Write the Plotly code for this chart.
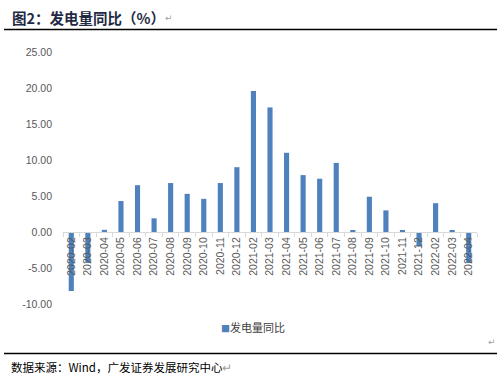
import plotly.graph_objects as go

categories = ["2020-02", "2020-03", "2020-04", "2020-05", "2020-06", "2020-07", "2020-08",
              "2020-09", "2020-10", "2020-11", "2020-12", "2021-02", "2021-03", "2021-04",
              "2021-05", "2021-06", "2021-07", "2021-08", "2021-09", "2021-10", "2021-11",
              "2021-12", "2022-02", "2022-03", "2022-04"]
values = [-8.2, -4.3, 0.3, 4.3, 6.5, 1.9, 6.8, 5.3, 4.6, 6.8, 9.0, 19.6, 17.3, 11.0,
          7.9, 7.4, 9.6, 0.2, 4.9, 3.0, 0.2, -2.0, 4.0, 0.2, -4.3]
series_name = "发电量同比"
y_ticks = [-10, -5, 0, 5, 10, 15, 20, 25]
y_ticklabels = ["-10.00", "-5.00", "0.00", "5.00", "10.00", "15.00", "20.00", "25.00"]

W, H = 498, 382
ymin, ymax = -10, 25
dom_top = 1 - 52 / H
dom_bot = 1 - 304 / H
zero_pos = dom_bot + (dom_top - dom_bot) * (0 - ymin) / (ymax - ymin)
bar_color = "#4f81bd"

fig = go.Figure()
fig.add_trace(go.Bar(x=categories, y=values, name=series_name,
                     marker=dict(color=bar_color, line=dict(width=0))))

fig.update_layout(
    width=W, height=H,
    margin=dict(l=0, r=0, t=0, b=0, autoexpand=False),
    paper_bgcolor="white", plot_bgcolor="white",
    bargap=0.69,
    showlegend=False,
    xaxis=dict(domain=[63 / W, 477 / W], anchor="free", position=zero_pos, automargin=False,
               type="category", tickangle=-90, showline=True, linecolor="#d9d9d9", linewidth=1,
               ticks="outside", tickson="boundaries", ticklen=4, tickcolor="#d9d9d9",
               showgrid=False, zeroline=False,
               tickfont=dict(family="Liberation Sans", size=10.5, color="#595959")),
    yaxis=dict(domain=[dom_bot, dom_top], range=[ymin, ymax], tickvals=y_ticks, automargin=False,
               ticktext=y_ticklabels, showgrid=False, zeroline=False, showline=False,
               ticks="", ticklabelstandoff=10,
               tickfont=dict(family="Liberation Sans", size=10.5, color="#595959")),
)

# legend drawn as text
fig.add_annotation(x=219 / W, y=1 - 327 / H, xref="paper", yref="paper", xanchor="left",
                   yanchor="middle", showarrow=False,
                   text=f"<span style='color:{bar_color};font-size:9px'>■</span>{series_name}",
                   font=dict(family="Noto Sans CJK SC", size=11, color="#404040"))

# title and frame lines
fig.add_annotation(x=10 / W, y=1 - 17 / H, xref="paper", yref="paper", xanchor="left",
                   yanchor="middle", showarrow=False,
                   text="<b>图2：发电量同比（%）</b>",
                   font=dict(family="Noto Sans CJK SC", size=14.5, color="#1f2a44"))
fig.add_annotation(x=163 / W, y=1 - 18 / H, xref="paper", yref="paper", xanchor="left",
                   yanchor="middle", showarrow=False, text="↵",
                   font=dict(family="DejaVu Sans", size=9, color="#a0a0a0"))
fig.add_annotation(x=486 / W, y=1 - 342 / H, xref="paper", yref="paper", xanchor="left",
                   yanchor="middle", showarrow=False, text="↵",
                   font=dict(family="DejaVu Sans", size=9, color="#a0a0a0"))
fig.add_annotation(x=9 / W, y=1 - 367 / H, xref="paper", yref="paper", xanchor="left",
                   yanchor="middle", showarrow=False,
                   text="数据来源：Wind，广发证券发展研究中心<span style='color:#a0a0a0'>↵</span>",
                   font=dict(family="Noto Sans CJK SC", size=11.5, color="#000000"))
fig.add_shape(type="line", xref="paper", yref="paper", x0=4 / W, x1=497 / W,
              y0=1 - 29.5 / H, y1=1 - 29.5 / H, line=dict(color="black", width=1.5))
fig.add_shape(type="line", xref="paper", yref="paper", x0=4 / W, x1=497 / W,
              y0=1 - 353.5 / H, y1=1 - 353.5 / H, line=dict(color="black", width=1.5))

fig.write_html("out.html",
               config={"displayModeBar": False},
               post_script="document.body.style.margin='0';document.body.style.padding='0';"
                           "document.body.style.overflow='hidden';")
